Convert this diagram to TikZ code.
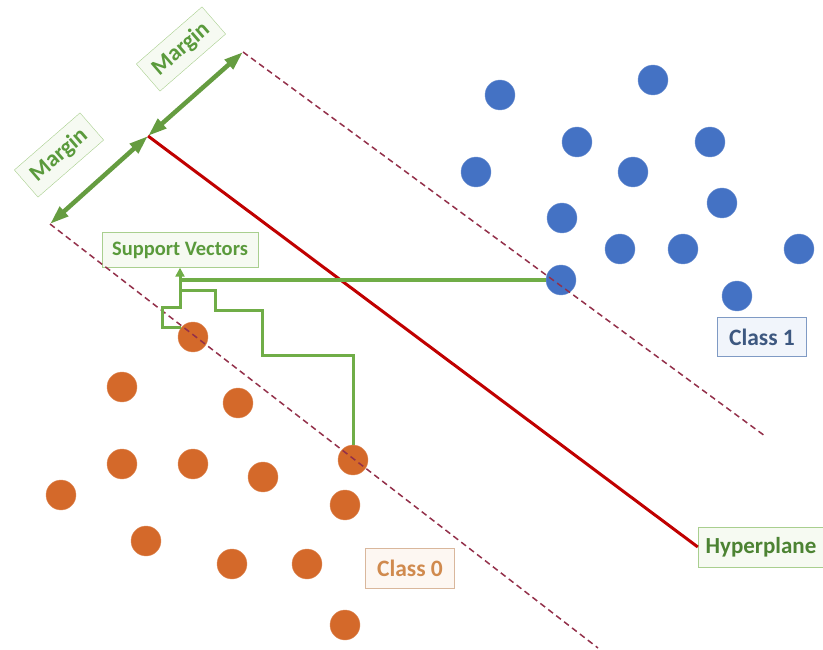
\documentclass[tikz,border=0pt]{standalone}
\usepackage{fontspec}
\setmainfont{Carlito}
\usetikzlibrary{arrows.meta}

\definecolor{svgreen}{HTML}{70AD47}
\definecolor{svgreentext}{HTML}{5A9A3C}
\definecolor{svgreenedge}{HTML}{A9CF8F}
\definecolor{svgreenfill}{HTML}{F6FAF2}
\definecolor{dotblue}{HTML}{4472C4}
\definecolor{dotorange}{HTML}{D4692A}
\definecolor{hyperred}{HTML}{C00000}
\definecolor{marginred}{HTML}{93304A}
\definecolor{classblue}{HTML}{3D5880}
\definecolor{classblueedge}{HTML}{7F9AC4}
\definecolor{classbluefill}{HTML}{F1F5FB}
\definecolor{classorange}{HTML}{D08A4E}
\definecolor{classorangeedge}{HTML}{D9B79C}
\definecolor{classorangefill}{HTML}{FDF7F2}

\begin{document}
\begin{tikzpicture}[x=1pt,y=-1pt,
    bluedot/.style={circle,fill=dotblue,draw=dotblue!75!white,minimum size=30pt,inner sep=0pt},
    orangedot/.style={circle,fill=dotorange,draw=dotorange!75!white,minimum size=30pt,inner sep=0pt},
    greenbox/.style={draw=svgreenedge,fill=svgreenfill,text=svgreentext,inner sep=0pt,font=\bfseries},
    marginbox/.style={greenbox,minimum width=87pt,minimum height=36pt,rotate=41,font=\fontsize{23}{27}\bfseries},
    marginarrow/.style={draw=svgreen!90!black,line width=4.5pt,{Triangle[length=19pt,width=12pt]}-{Triangle[length=19pt,width=12pt]}},
    marginline/.style={draw=marginred,line width=1.5pt,dash pattern=on 6pt off 4pt},
    hyperline/.style={draw=hyperred,line width=3pt},
    conn/.style={draw=svgreen,line width=3pt}
    ]
    \useasboundingbox (0,0) rectangle (823,650);

    % class 1
    \foreach \px/\py [count=\i] in {500/95,653/80,577/142,710/142,476/172,633/172,562/218,
                                     722/203,620/249,683/249,799/249,561/280,737/296}
      \node (b\i) [bluedot] at (\px,\py) {};

    % class 0
    \foreach \px/\py [count=\i] in {193/337,122/387,238/403,122/464,193/464,263/477,353/460,
                                     61/495,345/505,146/541,232/564,307/564,345/625}
      \node (o\i) [orangedot] at (\px,\py) {};

    \coordinate (low) at (50,224);
    \coordinate (top) at (148,136);
    \coordinate (up) at (243,52);
    \coordinate (lowend) at (598,648);
    \coordinate (upend) at (765,436);

    \node (marginlow) [marginbox] at (59,155) {Margin};
    \node (marginup) [marginbox] at (181,49) {Margin};
    \node (svlabel) [greenbox,minimum width=156pt,minimum height=35pt,
                     font=\fontsize{20.5}{24}\bfseries] at (180,250) {Support Vectors};
    \node (hplabel) [greenbox,text=svgreentext!85!black,minimum width=126pt,minimum height=40pt,
                     font=\fontsize{23}{27}\bfseries] at (761,547) {Hyperplane};
    \node (class1) [draw=classblueedge,fill=classbluefill,text=classblue,inner sep=0pt,
                    minimum width=89pt,minimum height=39pt,font=\fontsize{23.5}{27}\bfseries]
                    at (762,337) {Class 1};
    \node (class0) [draw=classorangeedge,fill=classorangefill,text=classorange,inner sep=0pt,
                    minimum width=89pt,minimum height=40pt,font=\fontsize{23.5}{27}\bfseries]
                    at (410,568) {Class 0};

    \draw[marginline] (up) -- (upend);
    \draw[marginline] (low) -- (lowend);
    \draw[hyperline] (top) -- (hplabel.west);

    \draw[marginarrow] (low) -- (top);
    \draw[marginarrow] (top) -- (up);

    % support vector pointers
    \draw[conn,shorten >=6pt] (o1.142) -| (162,307) -| (svlabel.south);
    \draw[conn,shorten >=6pt] (o7.north) |- (262,355) |- (215,310) |- (180,290) -- (svlabel.south);
    \draw[conn,-{Triangle[length=9pt,width=9pt]}] (b12.west) -| (svlabel.south);

  \end{tikzpicture}
\end{document}
